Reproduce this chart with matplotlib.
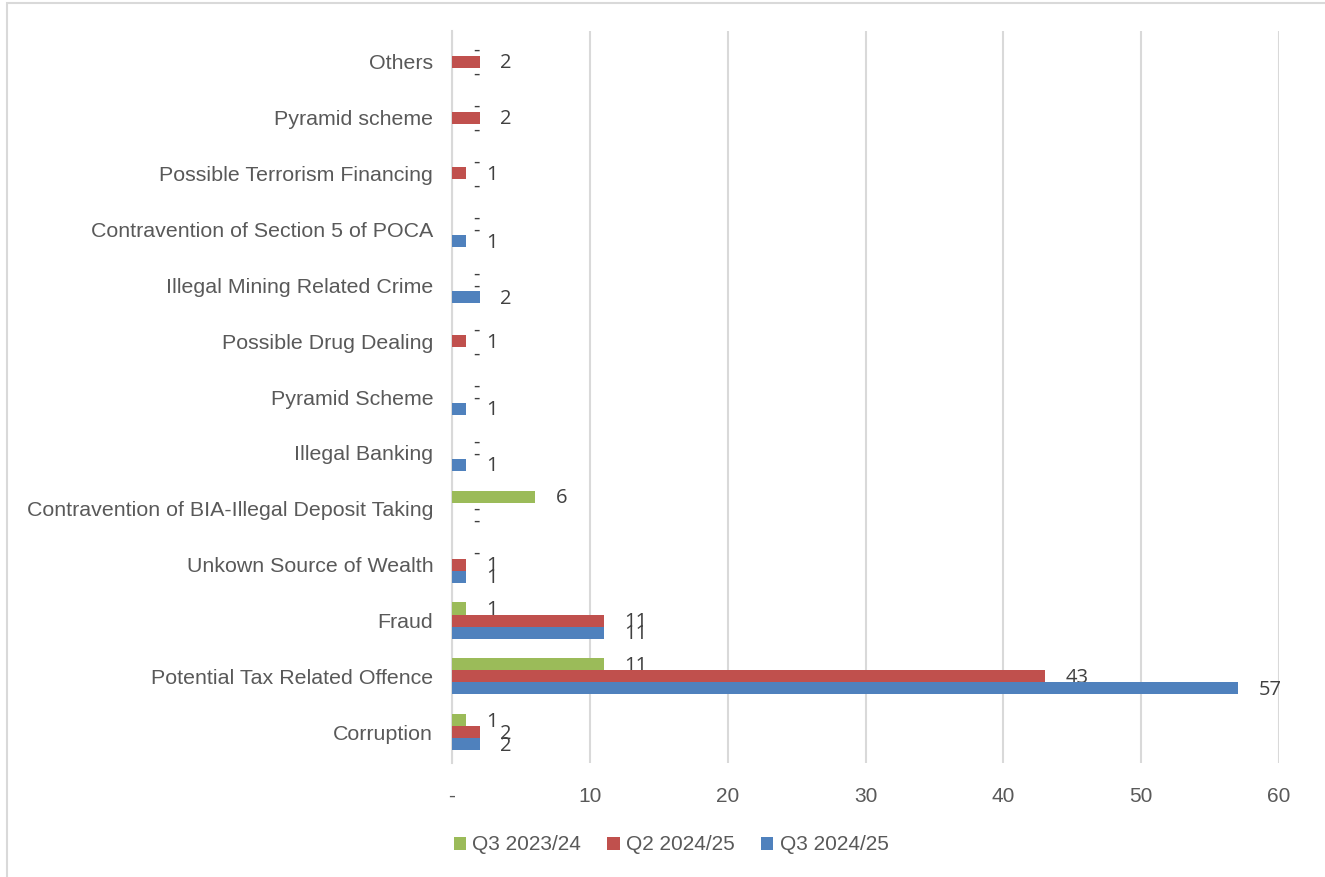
import matplotlib.pyplot as plt
import numpy as np
from matplotlib.patches import Rectangle

# Offence categories, bottom to top as they appear on the axis
categories = [
    "Corruption",
    "Potential Tax Related Offence",
    "Fraud",
    "Unkown Source of Wealth",
    "Contravention of BIA-Illegal Deposit Taking",
    "Illegal Banking",
    "Pyramid Scheme",
    "Possible Drug Dealing",
    "Illegal Mining Related Crime",
    "Contravention of Section 5 of POCA",
    "Possible Terrorism Financing",
    "Pyramid scheme",
    "Others",
]

q3_2023_24 = [1, 11, 1, 0, 6, 0, 0, 0, 0, 0, 0, 0, 0]
q2_2024_25 = [2, 43, 11, 1, 0, 0, 0, 1, 0, 0, 1, 2, 2]
q3_2024_25 = [2, 57, 11, 1, 0, 1, 1, 0, 2, 1, 0, 0, 0]

series = [
    ("Q3 2023/24", q3_2023_24, "#9bbb59"),
    ("Q2 2024/25", q2_2024_25, "#c0504d"),
    ("Q3 2024/25", q3_2024_25, "#4f81bd"),
]

label_font = ["Liberation Sans", "DejaVu Sans"]
value_font = ["Open Sans", "DejaVu Sans"]

fig = plt.figure(figsize=(13.25, 8.77), dpi=100)
ax = fig.add_axes([452 / 1325, 1 - 763 / 877, (1279 - 452) / 1325, (763 - 31) / 877])

y = np.arange(len(categories))
h = 0.215
offsets = [h, 0, -h]  # green on top, blue at the bottom of each group

for (name, vals, color), off in zip(series, offsets):
    ax.barh(y + off, vals, height=h, color=color, label=name, zorder=3)
    for yi, v in zip(y, vals):
        ax.annotate("-" if v == 0 else str(v), xy=(v, yi + off), xytext=(15, -1),
                    textcoords="offset points", ha="left", va="center",
                    fontsize=14.5, color="#404040", family=value_font)

ax.set_xlim(0, 60)
ax.set_ylim(-0.55, len(categories) - 0.45)
ax.set_xticks(range(0, 61, 10))
ax.set_xticklabels(["-"] + [str(t) for t in range(10, 61, 10)])
ax.set_yticks(y)
ax.set_yticklabels(categories)
ax.tick_params(axis="both", length=0, colors="#595959")
ax.tick_params(axis="x", pad=17, labelsize=15)
ax.tick_params(axis="y", pad=13.5, labelsize=15.4)
for lbl in ax.get_xticklabels() + ax.get_yticklabels():
    lbl.set_family(label_font)

ax.grid(axis="x", color="#d9d9d9", linewidth=1.5, zorder=0)
for side in ["top", "right", "bottom"]:
    ax.spines[side].set_visible(False)
ax.spines["left"].set_color("#d9d9d9")
ax.spines["left"].set_linewidth(1.5)
ax.spines["left"].set_zorder(2)

leg = fig.legend(loc="center", bbox_to_anchor=(671 / 1325, 1 - 845 / 877), ncol=3,
                 frameon=False, handlelength=0.6, handleheight=0.6, handletextpad=0.3,
                 columnspacing=1.25, prop={"family": label_font, "size": 15})
for t in leg.get_texts():
    t.set_color("#595959")

# light chart-area border
fig.patches.append(Rectangle((7.5 / 1325, -0.1), 1.2, 1 - 2.5 / 877 + 0.1,
                             transform=fig.transFigure, fill=False,
                             edgecolor="#d9d9d9", linewidth=1.5))

fig.savefig("out.png", dpi=100, facecolor="white")
